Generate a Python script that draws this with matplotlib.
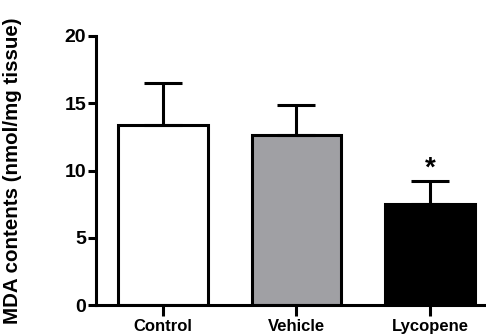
import numpy as np
import matplotlib.pyplot as plt

groups = ["Control", "Vehicle", "Lycopene"]
means = [13.4, 12.65, 7.5]
sems = [3.1, 2.25, 1.75]
colors = ["white", "#a0a0a4", "black"]

plt.rcParams['font.family'] = ['Liberation Sans', 'DejaVu Sans']
plt.rcParams['font.weight'] = 'bold'
plt.rcParams['axes.labelweight'] = 'bold'

fig = plt.figure(figsize=(4.86, 3.36), dpi=100)
ax = fig.add_axes([0.1975, 0.092, 0.8025, 0.801])

x = np.arange(len(groups))
ax.bar(x, means, width=0.67, color=colors, edgecolor="black", linewidth=2.2,
       yerr=[np.zeros(3), sems], capsize=14,
       error_kw=dict(elinewidth=2.2, capthick=2.2, ecolor="black"), zorder=2)
ax.text(x[2], means[2] + sems[2] + 0.9, "*", ha="center", va="center", fontsize=20)

ax.set_xlim(-0.5, 2.42)
ax.set_ylim(0, 20)
ax.set_yticks([0, 5, 10, 15, 20])
ax.set_xticks(x)
ax.set_xticklabels(groups, fontsize=12)
ax.tick_params(axis='y', labelsize=14, width=2.2, length=6, pad=1)
ax.tick_params(axis='x', width=2.2, length=8, pad=2)
for s in ["top", "right"]:
    ax.spines[s].set_visible(False)
for s in ["left", "bottom"]:
    ax.spines[s].set_linewidth(2.2)
ax.spines["bottom"].set_clip_on(False)
ax.set_ylabel("MDA contents (nmol/mg tissue)", fontsize=14.8)
ax.yaxis.set_label_coords(-0.19, 0.5)

fig.savefig("out.png", dpi=100)
